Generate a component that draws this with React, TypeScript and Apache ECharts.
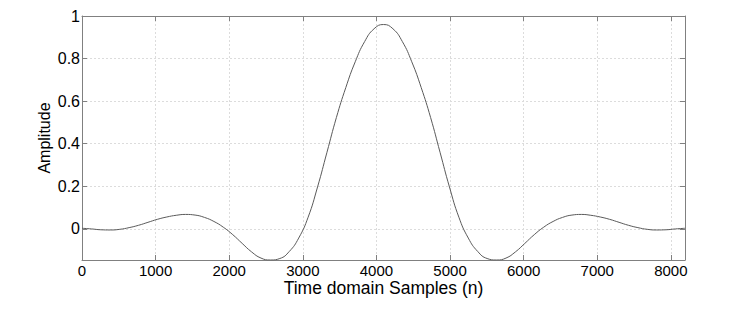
import React, { useEffect, useRef } from "react";
import * as echarts from "echarts";

const sampleIndex = [
  0, 128, 256, 384, 512, 640, 768, 896, 1024, 1152, 1280, 1408, 1536, 1664, 1792, 1920,
  2048, 2176, 2304, 2432, 2560, 2688, 2816, 2944, 3072, 3200, 3328, 3456, 3584, 3712, 3840, 3968,
  4096, 4224, 4352, 4480, 4608, 4736, 4864, 4992, 5120, 5248, 5376, 5504, 5632, 5760, 5888, 6016,
  6144, 6272, 6400, 6528, 6656, 6784, 6912, 7040, 7168, 7296, 7424, 7552, 7680, 7808, 7936, 8064,
  8192,
];

const amplitude = [
  0.003, 0.0, -0.004, -0.005, -0.002, 0.006, 0.017, 0.031, 0.045, 0.056, 0.064, 0.068, 0.065, 0.054, 0.035, 0.008,
  -0.027, -0.068, -0.108, -0.137, -0.146, -0.139, -0.106, -0.043, 0.055, 0.197, 0.36, 0.523, 0.664, 0.785, 0.88, 0.94,
  0.96, 0.94, 0.88, 0.785, 0.664, 0.523, 0.36, 0.197, 0.055, -0.043, -0.106, -0.139, -0.146, -0.137, -0.108, -0.068,
  -0.027, 0.008, 0.035, 0.054, 0.065, 0.068, 0.064, 0.056, 0.045, 0.031, 0.017, 0.006, -0.002, -0.005, -0.004, 0.0,
  0.003,
];

const xMin = 0;
const xMax = 8192;
const xStep = 1000;
const yMin = -0.146;
const yMax = 1;
const yStep = 0.2;

const xTitle = "Time domain Samples (n)";
const yTitle = "Amplitude";

export default function App() {
  const ref = useRef<HTMLDivElement>(null);

  useEffect(() => {
    if (!ref.current) return;
    const chart = echarts.init(ref.current, undefined, { renderer: "svg" });
    const font = "'Liberation Sans', Arial, Helvetica, sans-serif";
    const boxColor = "#808080";
    const gridLine = { show: true, lineStyle: { color: "#dcdcdc", type: [2, 2] as any, width: 1 } };
    const fmtY = (v: number) => {
      if (Math.abs(v) < 1e-9) return "0";
      return String(Math.round(v * 10) / 10);
    };
    const fmtX = (v: number) => String(Math.round(v));
    chart.setOption({
      animation: false,
      backgroundColor: "#ffffff",
      grid: { left: 82, top: 16, right: 62, bottom: 72, containLabel: false },
      xAxis: [
        {
          type: "value",
          min: xMin,
          max: xMax,
          interval: xStep,
          position: "bottom",
          name: xTitle,
          nameLocation: "middle",
          nameGap: 19,
          nameMoveOverlap: false,
          nameTextStyle: { color: "#000", fontSize: 17.5, fontFamily: font },
          axisLine: { show: true, onZero: false, lineStyle: { color: boxColor, width: 1 } },
          axisTick: { show: true, inside: true, length: 5, lineStyle: { color: boxColor } },
          axisLabel: {
            color: "#000",
            fontSize: 15,
            fontFamily: font,
            margin: 3,
            showMaxLabel: false,
            formatter: fmtX,
          },
          splitLine: gridLine,
        },
        {
          type: "value",
          min: xMin,
          max: xMax,
          interval: xStep,
          position: "top",
          axisLine: { show: true, onZero: false, lineStyle: { color: boxColor, width: 1 } },
          axisTick: { show: true, inside: true, length: 5, lineStyle: { color: boxColor } },
          axisLabel: { show: false },
          splitLine: { show: false },
        },
      ],
      yAxis: [
        {
          type: "value",
          min: yMin,
          max: yMax,
          minInterval: yStep,
          maxInterval: yStep,
          splitNumber: 5,
          position: "left",
          name: yTitle,
          nameLocation: "middle",
          nameGap: 30,
          nameRotate: 90,
          nameMoveOverlap: false,
          nameTextStyle: { color: "#000", fontSize: 16, fontFamily: font },
          axisLine: { show: true, onZero: false, lineStyle: { color: boxColor, width: 1 } },
          axisTick: { show: true, inside: true, length: 5, lineStyle: { color: boxColor } },
          axisLabel: { color: "#000", fontSize: 16, fontFamily: font, margin: 2, showMinLabel: false, formatter: fmtY },
          splitLine: gridLine,
        },
        {
          type: "value",
          min: yMin,
          max: yMax,
          minInterval: yStep,
          maxInterval: yStep,
          splitNumber: 5,
          position: "right",
          axisLine: { show: true, onZero: false, lineStyle: { color: boxColor, width: 1 } },
          axisTick: { show: true, inside: true, length: 5, lineStyle: { color: boxColor } },
          axisLabel: { show: false },
          splitLine: { show: false },
        },
      ],
      series: [
        {
          type: "line",
          xAxisIndex: 0,
          yAxisIndex: 0,
          data: sampleIndex.map((n, i) => [n, amplitude[i]]),
          showSymbol: false,
          smooth: true,
          lineStyle: { color: "#5a5a5a", width: 1 },
          silent: true,
        },
      ],
    });
    return () => chart.dispose();
  }, []);

  return (
    <div
      ref={ref}
      style={{ position: "fixed", left: 0, top: 0, width: 747, height: 332, background: "#fff" }}
    />
  );
}
